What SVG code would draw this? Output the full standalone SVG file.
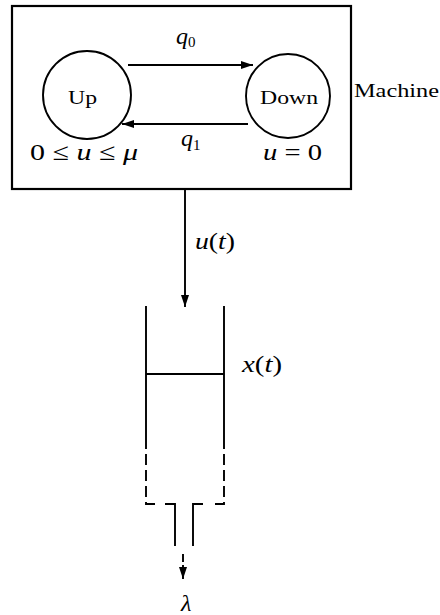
<svg xmlns="http://www.w3.org/2000/svg" width="440" height="615" viewBox="0 0 440 615">
<defs>
<marker id="ah" viewBox="0 0 12 8" refX="12" refY="4" markerWidth="12" markerHeight="8" markerUnits="userSpaceOnUse" orient="auto">
<path d="M0,0 L12,4 L0,8 z" fill="#000"/>
</marker>
</defs>
<style>
.ln{stroke:#000;stroke-width:1.9;fill:none}
.bx{stroke:#000;stroke-width:2.2;fill:none}
.t{font-family:"Liberation Serif","DejaVu Serif",serif;font-size:19px;fill:#000}
.mt{font-family:"Liberation Serif","DejaVu Serif",serif;font-size:24px;fill:#000}
.m{font-style:italic}
.ds{stroke-dasharray:11 5}
</style>
<rect width="440" height="615" fill="#fff"/>
<g id="machine">
<rect class="bx" x="12" y="6" width="339" height="183"/>
<text class="t" x="354" y="97" textLength="85" lengthAdjust="spacingAndGlyphs">Machine</text>
</g>
<g id="up">
<circle class="ln" cx="87" cy="95" r="44"/>
<text class="t" x="68" y="104" textLength="29" lengthAdjust="spacingAndGlyphs">Up</text>
<text class="mt" x="30" y="160" font-size="25" textLength="108" lengthAdjust="spacingAndGlyphs">0 ≤ <tspan class="m">u</tspan> ≤ <tspan class="m">μ</tspan></text>
</g>
<g id="down">
<circle class="ln" cx="288" cy="96" r="42"/>
<text class="t" x="260" y="104" textLength="58" lengthAdjust="spacingAndGlyphs">Down</text>
<text class="mt" x="263" y="160" font-size="25" textLength="59" lengthAdjust="spacingAndGlyphs"><tspan class="m">u</tspan> = 0</text>
</g>
<g id="buffer">
<path class="ln" d="M146,306 V438 M224,306 V438 M146,374 H224"/>
<path class="ln ds" d="M146,438 V504 H156"/>
<path class="ln ds" d="M224,438 V504 H213"/>
<path class="ln" d="M165,504 H175 V546 M203,504 H193 V546"/>
<text class="mt" x="242" y="372" textLength="40" lengthAdjust="spacingAndGlyphs"><tspan class="m">x</tspan>(<tspan class="m">t</tspan>)</text>
</g>
<g id="connectors">
<line class="ln" x1="128" y1="65" x2="253" y2="65" marker-end="url(#ah)"/>
<text class="mt m" x="176" y="44">q<tspan font-size="15" font-style="normal" dy="3">0</tspan></text>
<line class="ln" x1="248" y1="124" x2="122" y2="124" marker-end="url(#ah)"/>
<text class="mt m" x="181" y="146">q<tspan font-size="15" font-style="normal" dy="4">1</tspan></text>
<line class="ln" x1="185" y1="190" x2="185" y2="307" marker-end="url(#ah)"/>
<text class="mt" x="195" y="249" textLength="40" lengthAdjust="spacingAndGlyphs"><tspan class="m">u</tspan>(<tspan class="m">t</tspan>)</text>
<line class="ln" x1="183" y1="554" x2="183" y2="579" stroke-dasharray="8 3" marker-end="url(#ah)"/>
<text class="mt m" x="181" y="611" font-size="26">λ</text>
</g>
</svg>
